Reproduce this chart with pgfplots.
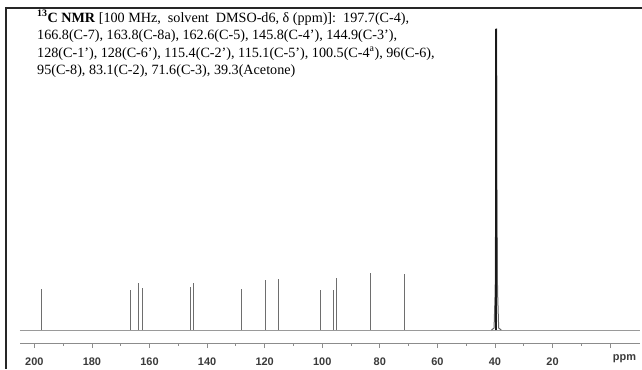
\documentclass[border=0pt]{standalone}
\usepackage{fontspec}
\setmainfont{Liberation Serif}
\newfontfamily\tickfont{Liberation Sans}
\usepackage{pgfplots}
\pgfplotsset{compat=1.18}
\definecolor{peakgray}{HTML}{6E6E6E}
\definecolor{basegray}{HTML}{9A9A9A}
\definecolor{axgray}{HTML}{8C8C8C}
\definecolor{labgray}{HTML}{3A3A3A}
\begin{document}
\begin{tikzpicture}[x=1bp,y=1bp]
\useasboundingbox (0,0) rectangle (642,369);
\draw[line width=2bp,black!85] (5,361) -- (642,361);
\draw[line width=2bp,black!85] (6,362) -- (6,0);
\begin{axis}[
  at={(20bp,26bp)}, anchor=south west,
  scale only axis, width=620bp, height=335bp,
  xmin=-10.4, xmax=205, ymin=-13, ymax=322,
  x dir=reverse,
  axis x line*=bottom, axis y line=none,
  x axis line style={axgray, line width=0.8bp},
  xtick={0,20,...,200},
  xticklabels={,20,40,60,80,100,120,140,160,180,200},
  minor x tick num=1,
  tick align=outside,
  major tick length=5bp, minor tick length=2.5bp,
  every tick/.style={axgray, line width=0.8bp},
  xticklabel style={font=\tickfont\bfseries\fontsize{11}{12}\selectfont, text=labgray, anchor=base, yshift=-17bp},
  clip=false,
]
\addplot[basegray, line width=0.8bp] coordinates {(205,0) (-10.4,0)};
\addplot[ycomb, peakgray, line width=0.8bp, mark=none] coordinates {
  (197.7,41) (166.8,40) (163.8,47) (162.6,42) (145.8,43) (144.9,47)
  (128.0,41) (119.7,50) (115.4,51) (115.1,51) (100.5,40) (96.0,40)
  (95.0,52) (83.1,57) (71.6,56)
};
\addplot[black!60, line width=1bp, mark=none] coordinates {
  (41.2,0) (40.3,2) (39.9,40) (39.7,150) (39.6,301) (39.4,301) (39.3,150) (39.1,40) (38.7,2) (37.8,0)
};
\addplot[ycomb, black!90, line width=1.8bp, mark=none] coordinates {(39.5,301)};
\node[font=\tickfont\bfseries\fontsize{11}{12}\selectfont, text=labgray, anchor=base] at (axis cs:-5,-13) [yshift=-17bp] {ppm};
\end{axis}
\begin{scope}[every node/.style={anchor=base west, inner sep=0pt, font=\fontsize{14.2}{17}\selectfont}]
\node at (37,347) {\textbf{\textsuperscript{13}C NMR} [100 MHz,\ \ solvent\ \ DMSO-d6, δ (ppm)]:\ \ 197.7(C-4),};
\node at (37,329.5) {166.8(C-7), 163.8(C-8a), 162.6(C-5), 145.8(C-4’), 144.9(C-3’),};
\node at (37,312) {128(C-1’), 128(C-6’), 115.4(C-2’), 115.1(C-5’), 100.5(C-4\textsuperscript{a}), 96(C-6),};
\node at (37,294.5) {95(C-8), 83.1(C-2), 71.6(C-3), 39.3(Acetone)};
\end{scope}
\end{tikzpicture}
\end{document}
